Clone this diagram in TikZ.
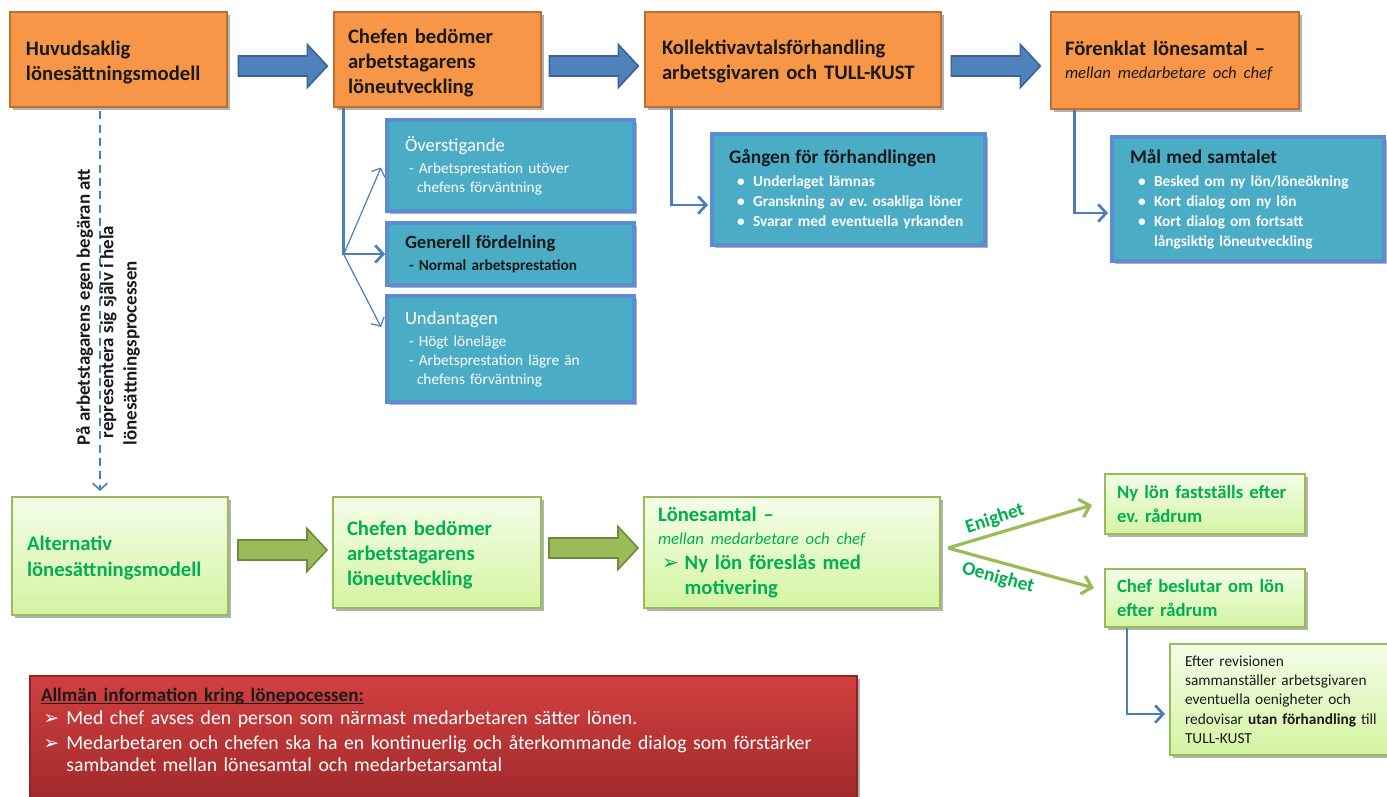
\documentclass[tikz,border=0pt]{standalone}
\usepackage{fontspec}
\setmainfont{Carlito}
\newfontfamily\dvs{DejaVu Sans}
\usetikzlibrary{arrows.meta,shadows,calc}
\definecolor{orFill}{HTML}{F79646}
\definecolor{orBorder}{HTML}{B9712F}
\definecolor{blFill}{HTML}{4F81BD}
\definecolor{blBorder}{HTML}{3A6496}
\definecolor{tealFill}{HTML}{4BACC6}
\definecolor{tealBorder}{HTML}{5B8CD4}
\definecolor{gTop}{HTML}{F4FDE8}
\definecolor{gBot}{HTML}{D4F4A2}
\definecolor{gBorder}{HTML}{9BBB59}
\definecolor{gText}{HTML}{00B050}
\definecolor{gArrBorder}{HTML}{6F8A3A}
\definecolor{conn}{HTML}{4A7EBB}
\definecolor{redTop}{HTML}{D24040}
\definecolor{redBot}{HTML}{A0292B}
\definecolor{darkText}{HTML}{1A1A1A}
\newcommand\arrowbullet{{\dvs\char"27A2}}
\newcommand\myul[1]{\setbox0\hbox{#1}\rlap{\rule[-1.6pt]{\wd0}{0.9pt}}\box0}
\frenchspacing
\begin{document}
\begin{tikzpicture}[x=0.75pt,y=-0.75pt,
  shad/.style={drop shadow={shadow xshift=2pt,shadow yshift=-2pt,opacity=0.3,fill=black}},
  obox/.style={draw=orBorder,line width=2pt,fill=orFill,inner sep=0pt,align=left,shad,
    text=darkText,font=\fontsize{15.5}{18.9}\selectfont\bfseries},
  tbox/.style={draw=tealBorder,line width=3pt,fill=tealFill,inner sep=0pt,align=left,shad},
  gbox/.style={draw=gBorder,line width=1.5pt,top color=gTop,bottom color=gBot,inner sep=0pt,
    align=left,shad,text=gText,font=\fontsize{15.5}{18.9}\selectfont\bfseries},
  blockarrow/.pic={\path[pic actions] (0,-10) -- (69,-10) -- (69,-21.5) -- (89,0) -- (69,21.5) -- (69,10) -- (0,10) -- cycle;},
  bluearrow/.style={fill=blFill,draw=blBorder,line width=1.2pt},
  greenarrow/.style={fill=gBorder,draw=gArrBorder,line width=1.2pt},
  conline/.style={draw=conn,line width=2pt,-{Straight Barb[length=6pt,width=13pt,line width=2pt]}},
  thinline/.style={draw=conn,line width=0.9pt,-{Straight Barb[length=5pt,width=11pt,line width=0.9pt]}},
  gline/.style={draw=gBorder,line width=2.4pt,-{Straight Barb[length=7pt,width=14pt,line width=2.4pt]}},
  glabel/.style={text=gText,font=\fontsize{14.5}{16}\selectfont\bfseries,inner sep=0pt},
]
\useasboundingbox (0,0) rectangle (1387,796);

% ---------- top row (orange) ----------
\node[obox,minimum width=217*0.75pt,minimum height=95*0.75pt,text width=185*0.75pt] (o1) at (118.5,59.5)
  {\rule{0pt}{15pt}Huvudsaklig\\lönesättningsmodell};
\node[obox,minimum width=207*0.75pt,minimum height=95*0.75pt,text width=179*0.75pt] (o2) at (437.5,59.5)
  {\rule{0pt}{16pt}Chefen bedömer\\arbetstagarens\\löneutveckling};
\node[obox,minimum width=296*0.75pt,minimum height=95*0.75pt,text width=262*0.75pt] (o3) at (793,59.5)
  {\rule{0pt}{14pt}Kollektivavtalsförhandling\\arbetsgivaren och TULL-KUST};
\node[obox,minimum width=248*0.75pt,minimum height=97*0.75pt,text width=220*0.75pt] (o4) at (1175,60.5)
  {Förenklat lönesamtal --\\[-1.5pt]{\fontsize{12.5}{15}\selectfont\mdseries\itshape mellan medarbetare och chef}};

\pic[bluearrow] at ($(o1.east)+(10,6.5)$) {blockarrow};
\pic[bluearrow] at ($(o2.east)+(7,6.5)$) {blockarrow};
\pic[bluearrow] at ($(o3.east)+(9,6.5)$) {blockarrow};

% ---------- teal boxes ----------
\node[tbox,minimum width=247*0.75pt,minimum height=91*0.75pt,text width=211*0.75pt,text=white,
  font=\fontsize{11.5}{14.25}\selectfont] (b1) at (510.5,165.5)
  {{\fontsize{14}{17}\selectfont Överstigande}\\[2.25pt]
   \hspace*{3pt}- Arbetsprestation utöver\\
   \hspace*{9pt}chefens förväntning};
\node[tbox,minimum width=247*0.75pt,minimum height=62*0.75pt,text width=211*0.75pt,text=darkText,
  font=\fontsize{11.5}{14.25}\selectfont\bfseries] (b2) at (510.5,254)
  {{\fontsize{14}{17}\selectfont Generell fördelning}\\[2.25pt]
   \hspace*{3pt}- Normal arbetsprestation};
\node[tbox,minimum width=247*0.75pt,minimum height=106*0.75pt,text width=211*0.75pt,text=white,
  font=\fontsize{11.5}{14.25}\selectfont] (b3) at (510.5,349)
  {{\fontsize{14}{17}\selectfont Undantagen}\\[2.25pt]
   \hspace*{3pt}- Högt löneläge\\
   \hspace*{3pt}- Arbetsprestation lägre än\\
   \hspace*{9pt}chefens förväntning};
\node[tbox,minimum width=273*0.75pt,minimum height=111*0.75pt,text width=239*0.75pt,text=white,
  font=\fontsize{11.5}{15}\selectfont\bfseries] (b4) at (848.5,189.5)
  {{\fontsize{14.5}{17}\selectfont\color{darkText}Gången för förhandlingen}\\[2.25pt]
   \hspace*{6pt}\makebox[12pt][l]{•}Underlaget lämnas\\
   \hspace*{6pt}\makebox[12pt][l]{•}Granskning av ev. osakliga löner\\
   \hspace*{6pt}\makebox[12pt][l]{•}Svarar med eventuella yrkanden};
\node[tbox,minimum width=272*0.75pt,minimum height=124*0.75pt,text width=236*0.75pt,text=white,
  font=\fontsize{11.5}{15}\selectfont\bfseries] (b5) at (1248,199)
  {{\fontsize{14.5}{17}\selectfont\color{darkText}Mål med samtalet}\\[2.25pt]
   \hspace*{6pt}\makebox[12pt][l]{•}Besked om ny lön/löneökning\\
   \hspace*{6pt}\makebox[12pt][l]{•}Kort dialog om ny lön\\
   \hspace*{6pt}\makebox[12pt][l]{•}Kort dialog om fortsatt\\
   \hspace*{18pt}långsiktig löneutveckling};

% ---------- connectors top ----------
\coordinate (fork) at ($(o2.south west)+(11,146)$);
\draw[conline] ($(o2.south west)+(11,0)$) |- (b2.west);
\draw[thinline] (fork) -- ($(b1.west)+(-4,2)$);
\draw[thinline] (fork) -- ($(b3.north west)+(-4,33)$);
\draw[conline] ($(o3.south west)+(28,0)$) |- ($(b4.south west)+(-2,-42)$);
\draw[conline] ($(o4.south west)+(25,0)$) |- ($(b5.south west)+(-2,-50)$);

% ---------- green row ----------
\node[gbox,minimum width=216*0.75pt,minimum height=118*0.75pt,text width=186*0.75pt] (g1) at (120,556)
  {\rule{0pt}{14pt}Alternativ\\lönesättningsmodell};
\node[gbox,minimum width=208*0.75pt,minimum height=111*0.75pt,text width=180*0.75pt] (g2) at (437,552.5)
  {\rule{0pt}{15pt}Chefen bedömer\\arbetstagarens\\löneutveckling};
\node[gbox,minimum width=296*0.75pt,minimum height=111*0.75pt,text width=268*0.75pt] (g3) at (792,552.5)
  {Lönesamtal --\\[-1.5pt]
   {\fontsize{12.5}{15}\selectfont\mdseries\itshape mellan medarbetare och chef}\\[-0.5pt]
   \hspace*{3pt}\makebox[17pt][l]{\fontsize{15}{15}\selectfont\arrowbullet}Ny lön föreslås med\\
   \hspace*{20pt}motivering};
\node[gbox,minimum width=200*0.75pt,minimum height=60*0.75pt,text width=176*0.75pt,
  font=\fontsize{14}{18}\selectfont\bfseries] (g4) at (1205,504)
  {Ny lön fastställs efter\\ev. rådrum};
\node[gbox,minimum width=200*0.75pt,minimum height=58*0.75pt,text width=176*0.75pt,
  font=\fontsize{14}{18}\selectfont\bfseries] (g5) at (1205,598)
  {Chef beslutar om lön\\efter rådrum};
\node[gbox,minimum width=222*0.75pt,minimum height=111*0.75pt,text width=192*0.75pt,
  text=darkText,font=\fontsize{11.5}{14.5}\selectfont] (g6) at (1281,699.5)
  {Efter revisionen\\sammanställer arbetsgivaren\\eventuella oenigheter och\\redovisar \textbf{utan förhandling} till\\TULL-KUST};

\pic[greenarrow] at ($(g1.east)+(9,-6)$) {blockarrow};
\pic[greenarrow] at ($(g2.east)+(7,-4.5)$) {blockarrow};

\coordinate (gfork) at ($(g3.east)+(7,-4.5)$);
\draw[gline] (gfork) -- ($(g4.west)+(-12,1)$);
\draw[gline] (gfork) -- ($(g5.west)+(-10,-10)$);
\node[glabel,rotate=18] (en) at (995,519) {Enighet};
\node[glabel,rotate=-15] (oen) at (998,578) {Oenighet};

\draw[conline] ($(g5.south west)+(23,0)$) |- ($(g6.south west)+(-4,-42)$);

% ---------- dashed alternative path ----------
\draw[draw=conn,line width=1.4pt,dash pattern=on 6pt off 4pt,
  -{Straight Barb[length=5pt,width=11pt,line width=1.2pt]}]
  ($(o1.south)+(-18.5,3)$) -- ($(g1.north)+(-20,-5)$);
\node[rotate=90,align=left,text=darkText,font=\fontsize{14.2}{17.5}\selectfont\bfseries] (side) at (108,307)
  {På arbetstagarens egen begäran att\\\hspace*{5pt}representera sig själv i hela\\lönesättningsprocessen};

% ---------- red info box ----------
\node[draw=redBot!90!black,line width=0.8pt,top color=redTop,bottom color=redBot,minimum width=827*0.75pt,
  minimum height=124*0.75pt,inner sep=0pt,text width=805*0.75pt,align=left,shad,text=white,
  font=\fontsize{14.8}{16.5}\selectfont] (info) at (443.5,738)
  {{\color{darkText}\fontsize{14.3}{16}\selectfont\bfseries\myul{Allmän information kring lönepocessen:}}\\[0.3pt]
   \hspace*{2pt}\makebox[17pt][l]{\fontsize{14}{14}\selectfont\arrowbullet}Med chef avses den person som närmast medarbetaren sätter lönen.\\[2.5pt]
   \hspace*{2pt}\makebox[17pt][l]{\fontsize{14}{14}\selectfont\arrowbullet}Medarbetaren och chefen ska ha en kontinuerlig och återkommande dialog som förstärker\\
   \hspace*{19pt}sambandet mellan lönesamtal och medarbetarsamtal\rule[-12pt]{0pt}{1pt}};
\end{tikzpicture}
\end{document}
